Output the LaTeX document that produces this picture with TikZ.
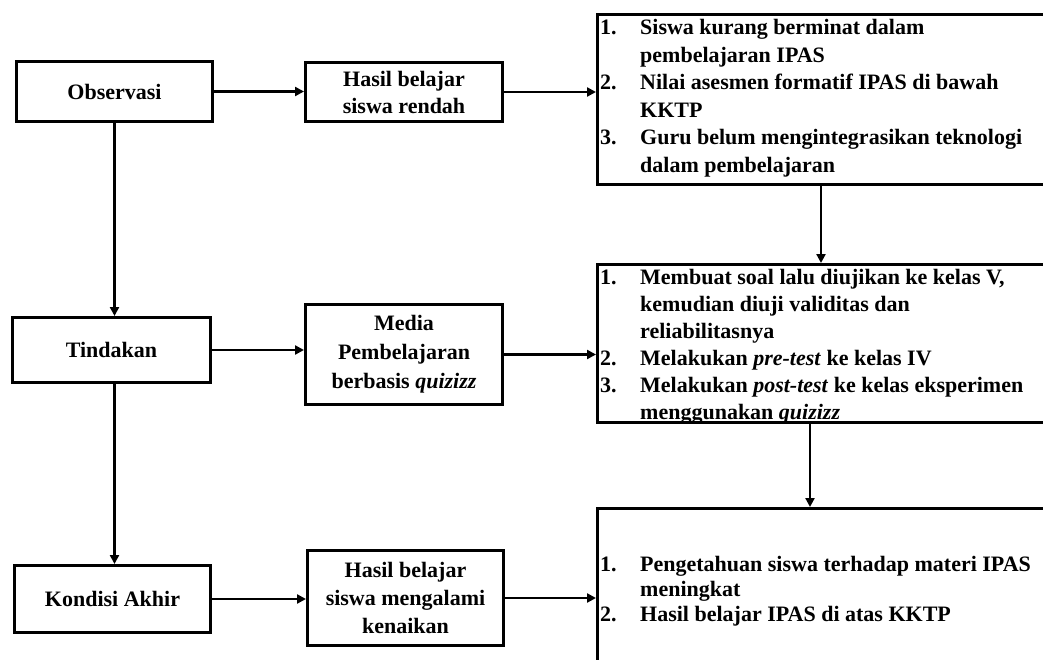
\documentclass[tikz,border=0pt]{standalone}
\usepackage{fontspec}
\setmainfont{Liberation Serif}
\usetikzlibrary{arrows.meta}
\newcommand{\nm}[1]{\makebox[40pt][l]{#1}}
\begin{document}
\begin{tikzpicture}[x=1pt,y=-1pt,
  box/.style={draw, line width=3pt, inner sep=0pt, anchor=north west, align=center,
    font=\fontsize{22}{28}\selectfont\bfseries},
  lst/.style={font=\fontsize{22}{27.5}\selectfont\bfseries, inner sep=0pt, anchor=base west},
  arr/.style={line width=2.6pt, -{Triangle[length=9pt,width=9pt]}},
  ln/.style={line width=2.6pt}]
\useasboundingbox (0,0) rectangle (1043,660);
\fill[white] (0,0) rectangle (1043,660);
\clip (0,0) rectangle (1043,660);
% left column
\node[box, minimum width=196pt, minimum height=60pt] (obs) at (15,60) {Observasi};
\node[box, minimum width=198pt, minimum height=65pt] (tind) at (11,316) {Tindakan};
\node[box, minimum width=196pt, minimum height=67pt] (kond) at (13,564) {Kondisi Akhir};
% middle column
\node[box, minimum width=197pt, minimum height=59pt, font=\fontsize{22}{27}\selectfont\bfseries] (hr) at (304,61) {Hasil belajar\\siswa rendah};
\node[box, minimum width=197pt, minimum height=100pt, font=\fontsize{22}{29}\selectfont\bfseries] (media) at (304,303) {Media\\Pembelajaran\\berbasis \textit{quizizz}};
\node[box, minimum width=196pt, minimum height=95pt] (hm) at (306,549) {Hasil belajar\\siswa mengalami\\kenaikan};
% right column boxes
\node[box, minimum width=470pt, minimum height=170pt] (b1) at (596,13) {};
\node[box, minimum width=470pt, minimum height=158pt] (b2) at (596,263) {};
\node[box, minimum width=470pt, minimum height=200pt] (b3) at (596,507) {};
% list texts
\node[lst] (t1) at (600,35) {\begin{tabular}[t]{@{}l@{}}
\nm{1.}Siswa kurang berminat dalam\\
\nm{}pembelajaran IPAS\\
\nm{2.}Nilai asesmen formatif IPAS di bawah\\
\nm{}KKTP\\
\nm{3.}Guru belum mengintegrasikan teknologi\\
\nm{}dalam pembelajaran\end{tabular}};
\node[lst, font=\fontsize{22}{27}\selectfont\bfseries] (t2) at (600,284) {\begin{tabular}[t]{@{}l@{}}
\nm{1.}Membuat soal lalu diujikan ke kelas V,\\
\nm{}kemudian diuji validitas dan\\
\nm{}reliabilitasnya\\
\nm{2.}Melakukan \textit{pre-test} ke kelas IV\\
\nm{3.}Melakukan \textit{post-test} ke kelas eksperimen\\
\nm{}menggunakan \textit{quizizz}\end{tabular}};
\node[lst, font=\fontsize{22}{25}\selectfont\bfseries] (t3) at (600,571) {\begin{tabular}[t]{@{}l@{}}
\nm{1.}Pengetahuan siswa terhadap materi IPAS\\
\nm{}meningkat\\
\nm{2.}Hasil belajar IPAS di atas KKTP\end{tabular}};
% connectors
\draw[arr] (obs.east) -- (obs.east -| hr.west);
\draw[arr] (hr.east) -- (hr.east -| b1.west);
\draw[arr] (obs.south) -- (obs.south |- tind.north);
\draw[arr] (obs.south |- tind.south) -- (obs.south |- kond.north);
\draw[arr] (tind.east) -- (tind.east -| media.west);
\draw[arr] (media.east) -- (media.east -| b2.west);
\draw[arr] (kond.east) -- (kond.east -| hm.west);
\draw[arr] (hm.east) -- (hm.east -| b3.west);
\draw[arr] ([xshift=225pt]b1.south west) -- ([xshift=225pt]b1.south west |- b2.north);
\draw[arr] ([xshift=214pt]b2.south west) -- ([xshift=214pt]b2.south west |- b3.north);
\end{tikzpicture}
\end{document}
